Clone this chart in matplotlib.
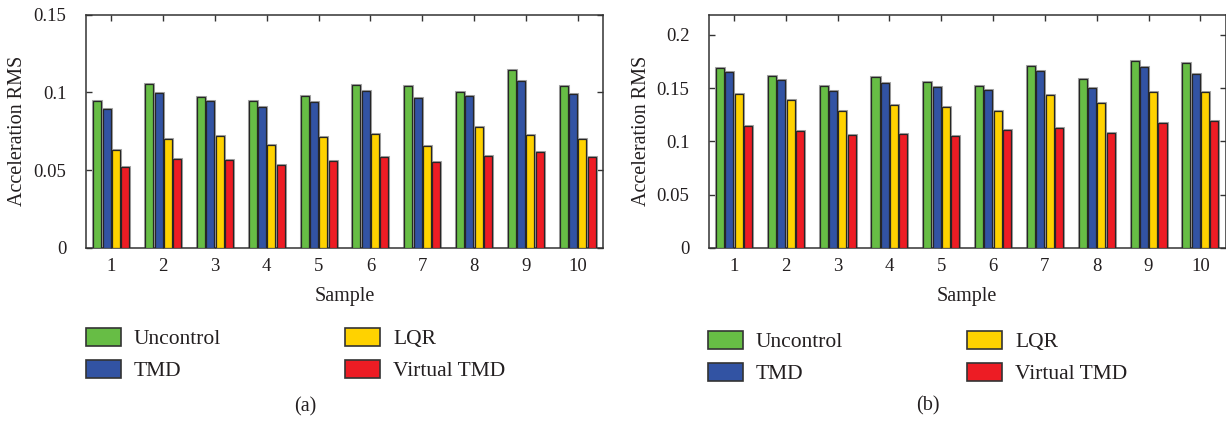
import numpy as np
import matplotlib
matplotlib.use("Agg")
import matplotlib.pyplot as plt
from matplotlib.patches import Patch

plt.rcParams['font.family'] = ['Liberation Serif', 'DejaVu Serif']
plt.rcParams['text.color'] = '#231f20'

samples = np.arange(1, 11)
sample_labels = ['1', '2', '3', '4', '5', '6', '7', '8', '9', '10']
series_names = ['Uncontrol', 'TMD', 'LQR', 'Virtual TMD']
series_colors = ['#67bd45', '#3253a3', '#ffd200', '#ed1c24']

# (a) acceleration RMS per sample
a_uncontrol = [0.0948, 0.1057, 0.0971, 0.0946, 0.0976, 0.1051, 0.1042, 0.1004, 0.1147, 0.1040]
a_tmd = [0.0892, 0.0999, 0.0944, 0.0905, 0.0937, 0.1010, 0.0967, 0.0976, 0.1072, 0.0991]
a_lqr = [0.0629, 0.0702, 0.0721, 0.0661, 0.0713, 0.0734, 0.0657, 0.0779, 0.0725, 0.0698]
a_virtual = [0.0520, 0.0573, 0.0569, 0.0531, 0.0558, 0.0586, 0.0552, 0.0593, 0.0618, 0.0582]

# (b) acceleration RMS per sample
b_uncontrol = [0.1687, 0.1618, 0.1517, 0.1602, 0.1561, 0.1524, 0.1705, 0.1583, 0.1755, 0.1734]
b_tmd = [0.1649, 0.1580, 0.1473, 0.1545, 0.1511, 0.1480, 0.1661, 0.1505, 0.1702, 0.1636]
b_lqr = [0.1448, 0.1389, 0.1282, 0.1339, 0.1326, 0.1285, 0.1436, 0.1357, 0.1467, 0.1467]
b_virtual = [0.1141, 0.1094, 0.1060, 0.1072, 0.1056, 0.1110, 0.1125, 0.1075, 0.1176, 0.1188]

a_yticks = [0, 0.05, 0.1, 0.15]
a_yticklabels = ['0', '0.05', '0.1', '0.15']
b_yticks = [0, 0.05, 0.1, 0.15, 0.2]
b_yticklabels = ['0', '0.05', '0.1', '0.15', '0.2']

W, H = 1226, 421
fig = plt.figure(figsize=(W / 100, H / 100), dpi=100)

step = 0.18
width = 0.155
spine_col = '#333333'


def draw_panel(rect, data, ylim, yticks, yticklabels):
    ax = fig.add_axes(rect)
    for i, (vals, col) in enumerate(zip(data, series_colors)):
        x = samples + (i - 1.5) * step
        # soft grey halo under the dark outline
        ax.bar(x, vals, width, color=col, edgecolor='#a8a8a8', linewidth=2.2, zorder=2)
        ax.bar(x, vals, width, color=col, edgecolor='#262626', linewidth=0.9, zorder=3)
    ax.set_xlim(0.51, 10.49)
    ax.set_ylim(*ylim)
    ax.set_xticks(samples)
    ax.set_xticklabels(sample_labels)
    ax.set_yticks(yticks)
    ax.set_yticklabels(yticklabels)
    ax.tick_params(direction='in', length=4, width=1, color=spine_col,
                   top=True, right=True, labelsize=13.5, labelcolor='#231f20')
    ax.tick_params(axis='y', pad=14)
    ax.tick_params(axis='x', pad=7)
    for s in ax.spines.values():
        s.set_color(spine_col)
        s.set_linewidth(1.1)
    return ax


def px(x, y):
    return x / W, 1 - y / H


ax_a = draw_panel([86 / W, 1 - 248 / H, 517 / W, 233.3 / H],
                  [a_uncontrol, a_tmd, a_lqr, a_virtual], (0, 0.15), a_yticks, a_yticklabels)
ax_b = draw_panel([708.7 / W, 1 - 248 / H, 517 / W, 233.3 / H],
                  [b_uncontrol, b_tmd, b_lqr, b_virtual], (0, 0.219), b_yticks, b_yticklabels)

label_fs = 14.5
fig.text(*px(18, 131), 'Acceleration RMS', rotation=90, ha='center', va='center', fontsize=label_fs)
fig.text(*px(641, 131), 'Acceleration RMS', rotation=90, ha='center', va='center', fontsize=label_fs)
fig.text(*px(345, 296), 'Sample', ha='center', va='center', fontsize=label_fs)
fig.text(*px(967, 296), 'Sample', ha='center', va='center', fontsize=label_fs)
fig.text(*px(305, 407), '(a)', ha='center', va='center', fontsize=label_fs)
fig.text(*px(928, 406), '(b)', ha='center', va='center', fontsize=label_fs)

handles = [Patch(facecolor=c, edgecolor='#333333', linewidth=1.2) for c in series_colors]
for anchor in [(86, 328), (708, 331)]:
    fig.legend(handles, series_names, ncol=2, loc='upper left',
               bbox_to_anchor=px(*anchor), frameon=False, borderpad=0, borderaxespad=0,
               fontsize=15.5, handlelength=1.63, handleheight=0.88,
               handletextpad=0.6, columnspacing=5.75, labelspacing=0.5)

fig.savefig('out.png', dpi=100)
